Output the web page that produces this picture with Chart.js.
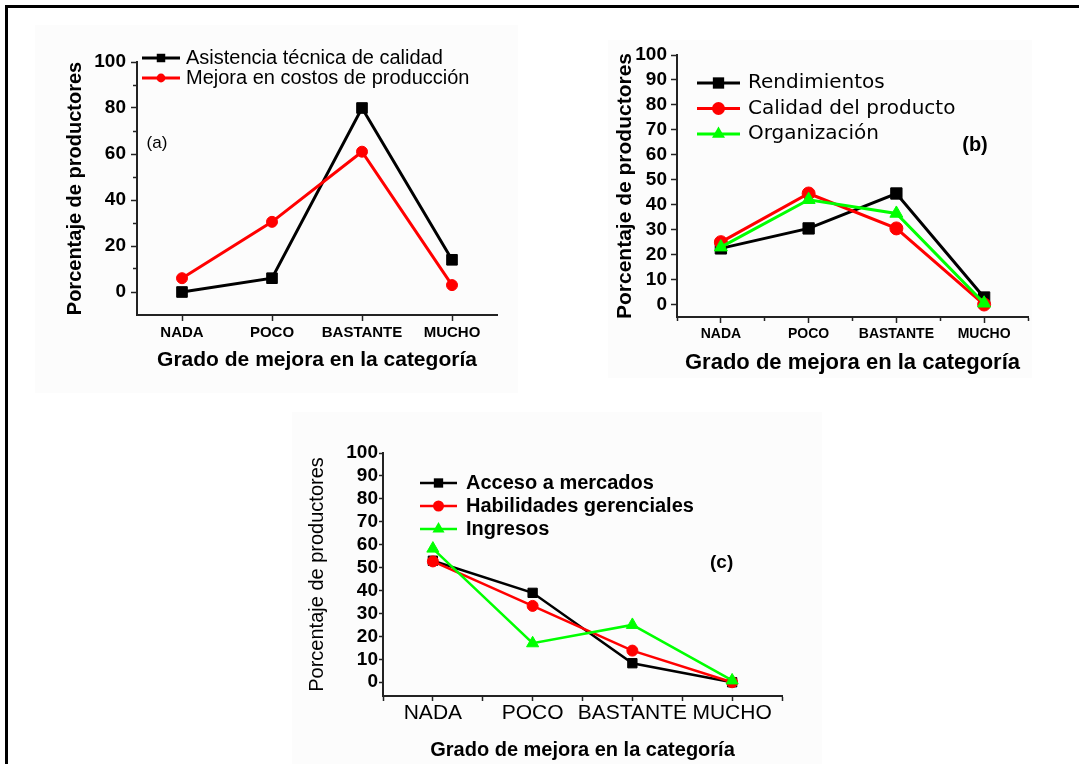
<!DOCTYPE html>
<html>
<head>
<meta charset="utf-8">
<script src="https://cdn.jsdelivr.net/npm/chart.js@4/dist/chart.umd.min.js"></script>
<style>
  body { margin: 0; background: #fff; width: 1079px; height: 764px; overflow: hidden; position: relative; }
  .frame { position: absolute; left: 5px; top: 5px; width: 1100px; height: 800px; border: 3px solid #000; box-sizing: border-box; }
  .panel { position: absolute; background: #fcfcfc; }
  canvas { position: absolute; }
</style>
</head>
<body>
<div class="panel" style="left:35px;top:25px;width:483px;height:368px"></div>
<div class="panel" style="left:608px;top:40px;width:424px;height:338px"></div>
<div class="panel" style="left:292px;top:412px;width:530px;height:360px"></div>
<div class="frame"></div>
<canvas id="chartA" width="500" height="370" style="left:20px;top:20px"></canvas>
<canvas id="chartB" width="460" height="370" style="left:600px;top:30px"></canvas>
<canvas id="chartC" width="540" height="344" style="left:280px;top:420px"></canvas>
<script>
	var categories = ['NADA', 'POCO', 'BASTANTE', 'MUCHO'];
	// tick positions on the x axis: category centres and the boundaries between them
	var xTicks = [-0.5, 0, 0.5, 1, 1.5, 2, 2.5, 3, 3.5];

	// (a)
	var asistenciaTecnica = [0, 6, 80, 14];
	var mejoraCostos = [6, 30.5, 61, 3];
	var yTicksA = [0, 10, 20, 30, 40, 50, 60, 70, 80, 90, 100];
	var yLabelsA = [0, 20, 40, 60, 80, 100];

	// (b)
	var rendimientos = [22.5, 30.5, 44.5, 2.8];
	var calidadProducto = [25, 44.5, 30.5, 0];
	var organizacion = [23, 42, 36.5, 0.5];

	// (c)
	var accesoMercados = [53, 39, 8.3, 0];
	var habilidadesGerenciales = [52.7, 33.3, 13.8, 0];
	var ingresos = [58.3, 17, 25, 0.8];

	var yTicksBC = [0, 10, 20, 30, 40, 50, 60, 70, 80, 90, 100];
	var yLabelsBC = [0, 10, 20, 30, 40, 50, 60, 70, 80, 90, 100];

	var SANS = "'Liberation Sans', Arial, sans-serif";
	var BLACK = '#000000', RED = '#ff0000', GREEN = '#00ff00';

	function points(values) {
		return values.map(function(v, i) { return {x: i, y: v}; });
	}

	function series(label, values, color, style, radius, width, order) {
		return {
			label: label,
			data: points(values),
			borderColor: color,
			backgroundColor: color,
			pointBackgroundColor: color,
			pointBorderColor: color,
			pointBorderWidth: 1,
			pointStyle: style,
			pointRadius: radius,
			borderWidth: width,
			order: order,
			tension: 0
		};
	}

	function marker(ctx, style, x, y, r) {
		ctx.beginPath();
		if (style === 'rect') {
			var s = r * Math.SQRT1_2;
			ctx.rect(x - s, y - s, 2 * s, 2 * s);
		} else if (style === 'triangle') {
			var a = 2 * Math.PI / 3;
			ctx.moveTo(x, y - r);
			ctx.lineTo(x + r * Math.sin(a), y - r * Math.cos(a));
			ctx.lineTo(x - r * Math.sin(a), y - r * Math.cos(a));
			ctx.closePath();
		} else {
			ctx.arc(x, y, r, 0, Math.PI * 2);
		}
		ctx.fill();
	}

	// legend with line + marker samples, and the panel tag (a)/(b)/(c)
	var sampleLegend = {
		id: 'sampleLegend',
		afterDraw: function(chart, args, opts) {
			var ctx = chart.ctx;
			ctx.save();
			ctx.textBaseline = 'middle';
			ctx.textAlign = 'left';
			ctx.font = opts.font;
			chart.data.datasets.forEach(function(ds, i) {
				var y = opts.y + i * opts.rowHeight;
				ctx.strokeStyle = ds.borderColor;
				ctx.lineWidth = ds.borderWidth;
				ctx.beginPath();
				ctx.moveTo(opts.x, y);
				ctx.lineTo(opts.x + opts.lineLength, y);
				ctx.stroke();
				ctx.fillStyle = ds.borderColor;
				marker(ctx, ds.pointStyle, opts.x + opts.lineLength / 2, y, ds.pointRadius * opts.pointScale);
				ctx.fillStyle = '#000';
				ctx.fillText(ds.label, opts.x + opts.lineLength + opts.gap, y);
			});
			ctx.font = opts.tagFont;
			ctx.textAlign = 'center';
			ctx.fillText(opts.tag, opts.tagX, opts.tagY);
			ctx.restore();
		}
	};

	function axisX(o) {
		return {
			type: 'linear',
			min: -0.5,
			max: 3.5,
			afterBuildTicks: function(s) { s.ticks = xTicks.map(function(v) { return {value: v}; }); },
			ticks: {
				autoSkip: false,
				maxRotation: 0,
				padding: o.pad,
				color: '#000',
				font: o.tickFont,
				callback: function(v) { return Number.isInteger(v) ? categories[v] : ''; }
			},
			grid: {
				drawOnChartArea: false,
				tickLength: o.tl,
				tickWidth: 1.5,
				tickColor: function(c) {
					if (!c.tick) return '#222';
					return (Number.isInteger(c.tick.value) || o.minor) ? '#222' : 'rgba(0,0,0,0)';
				},
				tickBorderDash: function(c) {
					return (c.tick && !Number.isInteger(c.tick.value) && o.minor) ? [o.minor, 50] : [];
				}
			},
			border: { color: '#222', width: 2 },
			title: {
				display: true,
				text: 'Grado de mejora en la categoría',
				color: '#000',
				font: o.titleFont,
				padding: { top: 0, bottom: o.titlePad }
			},
			afterFit: function(s) { s.height = o.height; }
		};
	}

	function axisY(o) {
		return {
			min: o.min,
			max: 100,
			afterBuildTicks: function(s) { s.ticks = o.ticks.map(function(v) { return {value: v}; }); },
			ticks: {
				autoSkip: false,
				padding: o.pad,
				color: '#000',
				font: o.tickFont,
				callback: function(v) { return o.labels.indexOf(v) >= 0 ? String(v) : ''; }
			},
			grid: {
				drawOnChartArea: false,
				tickLength: o.tl,
				tickWidth: 1.5,
				tickColor: '#222',
				tickBorderDash: function(c) {
					return (c.tick && o.labels.indexOf(c.tick.value) < 0) ? [0, o.tl - o.minor, o.minor, 50] : [];
				}
			},
			border: { color: '#222', width: 2 },
			title: {
				display: true,
				text: 'Porcentaje de productores',
				color: '#000',
				font: o.titleFont,
				padding: { top: o.titlePad, bottom: 0 }
			},
			afterFit: function(s) { s.width = o.width; }
		};
	}

	function baseOptions(padding, x, y, legend) {
		return {
			responsive: false,
			animation: false,
			devicePixelRatio: 1,
			layout: { padding: padding },
			scales: { x: x, y: y },
			plugins: {
				legend: { display: false },
				tooltip: { enabled: false },
				sampleLegend: legend
			}
		};
	}

	// chart (a)
	new Chart(document.getElementById('chartA').getContext('2d'), {
		type: 'line',
		data: {
			datasets: [
				series('Asistencia técnica de calidad', asistenciaTecnica, BLACK, 'rect', 7.5, 3, 2),
				series('Mejora en costos de producción', mejoraCostos, RED, 'circle', 5.5, 3, 1)
			]
		},
		options: baseOptions(
			{ left: 0, top: 42, right: 23, bottom: 5 },
			axisX({ pad: 3, tl: 6, minor: 0, height: 70, titlePad: 12.4,
				tickFont: { family: SANS, size: 15, weight: 'bold' },
				titleFont: { family: SANS, size: 21, weight: 'bold' } }),
			axisY({ min: -10, ticks: yTicksA, labels: yLabelsA, pad: 5, tl: 6, minor: 4, width: 117, titlePad: 43,
				tickFont: { family: SANS, size: 19, weight: 'bold' },
				titleFont: { family: SANS, size: 20, weight: 'bold' } }),
			{ x: 122, y: 38, rowHeight: 20, lineLength: 38, gap: 6, pointScale: 0.8,
				font: "20px 'Liberation Sans', Arial, sans-serif",
				tag: '(a)', tagX: 137, tagY: 123, tagFont: "17px 'Liberation Sans', Arial, sans-serif" }
		),
		plugins: [sampleLegend]
	});

	// chart (b)
	new Chart(document.getElementById('chartB').getContext('2d'), {
		type: 'line',
		data: {
			datasets: [
				series('Rendimientos', rendimientos, BLACK, 'rect', 8, 3, 3),
				series('Calidad del producto', calidadProducto, RED, 'circle', 6.5, 3, 2),
				series('Organización', organizacion, GREEN, 'triangle', 7.5, 3, 1)
			]
		},
		options: baseOptions(
			{ left: 0, top: 25, right: 32, bottom: 13 },
			axisX({ pad: 3, tl: 6, minor: 3, height: 70, titlePad: 10.8,
				tickFont: { family: SANS, size: 14, weight: 'bold' },
				titleFont: { family: SANS, size: 22, weight: 'bold' } }),
			axisY({ min: -5, ticks: yTicksBC, labels: yLabelsBC, pad: 4, tl: 6, minor: 6, width: 77, titlePad: 12.4,
				tickFont: { family: SANS, size: 19, weight: 'bold' },
				titleFont: { family: SANS, size: 21, weight: 'bold' } }),
			{ x: 97, y: 53, rowHeight: 25.5, lineLength: 43, gap: 8, pointScale: 1,
				font: "20px 'DejaVu Sans', sans-serif",
				tag: '(b)', tagX: 375, tagY: 115, tagFont: "bold 20px 'Liberation Sans', Arial, sans-serif" }
		),
		plugins: [sampleLegend]
	});

	// chart (c)
	new Chart(document.getElementById('chartC').getContext('2d'), {
		type: 'line',
		data: {
			datasets: [
				series('Acceso a mercados', accesoMercados, BLACK, 'rect', 6.6, 2.5, 3),
				series('Habilidades gerenciales', habilidadesGerenciales, RED, 'circle', 5.5, 2.5, 2),
				series('Ingresos', ingresos, GREEN, 'triangle', 7, 2.5, 1)
			]
		},
		options: baseOptions(
			{ left: 0, top: 33, right: 38, bottom: 0 },
			axisX({ pad: 0, tl: 5, minor: 5, height: 68, titlePad: 2,
				tickFont: { family: SANS, size: 21 },
				titleFont: { family: SANS, size: 20, weight: 'bold' } }),
			axisY({ min: -6, ticks: yTicksBC, labels: yLabelsBC, pad: 1, tl: 4, minor: 4, width: 103, titlePad: 25,
				tickFont: { family: SANS, size: 19, weight: 'bold' },
				titleFont: { family: SANS, size: 20 } }),
			{ x: 140, y: 63, rowHeight: 23, lineLength: 37, gap: 9, pointScale: 1,
				font: "bold 20px 'Liberation Sans', Arial, sans-serif",
				tag: '(c)', tagX: 441.6, tagY: 143, tagFont: "bold 19px 'Liberation Sans', Arial, sans-serif" }
		),
		plugins: [sampleLegend]
	});
</script>
</body>
</html>
